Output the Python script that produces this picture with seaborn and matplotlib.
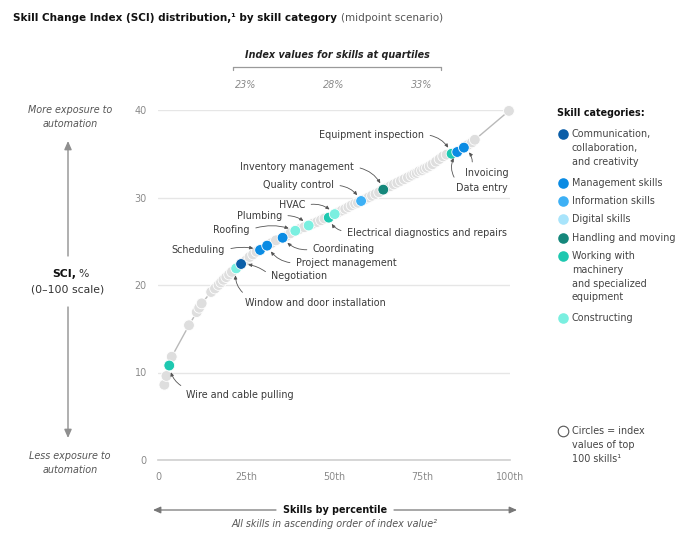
import numpy as np
import pandas as pd
import matplotlib
matplotlib.use("Agg")
import matplotlib.pyplot as plt
import matplotlib.transforms as mtransforms
import seaborn as sns

W, H = 695, 537

# ---------------- data ----------------
cat_keys = ["communication", "management", "information", "digital",
            "handling", "machinery", "constructing"]
cat_labels = ["Communication,\ncollaboration,\nand creativity", "Management skills",
              "Information skills", "Digital skills", "Handling and moving",
              "Working with\nmachinery\nand specialized\nequipment", "Constructing"]
cat_colors = ["#0b5ea8", "#0a8be3", "#3db0f5", "#a8e4fb", "#15877b", "#1ec8b0", "#7aefe0"]
other_color = "#dedede"

skill_names = ["Wire and cable pulling", "Window and door installation", "Negotiation",
               "Scheduling", "Project management", "Coordinating", "Roofing", "Plumbing",
               "Electrical diagnostics and repairs", "HVAC", "Quality control",
               "Inventory management", "Equipment inspection", "Data entry", "Invoicing"]
skill_cat = ["machinery", "constructing", "communication", "management", "management",
             "management", "constructing", "constructing", "machinery", "constructing",
             "information", "handling", "machinery", "management", "management"]
skill_pct = [3.2, 22.2, 23.6, 29.0, 31.0, 35.4, 39.0, 42.8, 48.5, 50.2, 57.7, 64.0, 83.4, 85.0, 86.9]
skill_sci = [10.8, 21.9, 22.4, 24.0, 24.5, 25.4, 26.2, 26.8, 27.7, 28.1, 29.6, 30.9, 35.0, 35.2, 35.7]

# remaining top-100 skills (grey circles)
other_pct = [1.8, 2.4, 3.9, 8.8, 11.0, 11.7, 12.4, 15.1, 16.2, 17.2, 17.9, 18.6, 19.4, 20.2,
             21.0, 25.0, 26.0, 27.0, 28.0, 32.3, 33.5, 36.5, 37.6, 40.2, 41.5, 44.0, 45.2,
             46.3, 47.3, 51.2, 52.2, 53.2, 54.1, 55.0, 56.0, 56.8, 58.8, 59.8, 60.8, 61.8,
             62.8, 65.0, 66.0, 67.0, 68.0, 69.0, 70.0, 71.0, 72.0, 72.8, 73.5, 74.2, 75.0,
             75.7, 76.4, 77.2, 78.0, 79.0, 80.0, 81.0, 82.0, 88.0, 89.2, 90.0, 99.7]
other_sci = [8.6, 9.6, 11.8, 15.4, 16.9, 17.4, 17.9, 19.2, 19.6, 20.0, 20.3, 20.6, 20.9, 21.2,
             21.5, 22.8, 23.2, 23.5, 23.8, 24.8, 25.1, 25.6, 25.9, 26.4, 26.6, 27.0, 27.2,
             27.4, 27.6, 28.3, 28.5, 28.7, 28.9, 29.1, 29.3, 29.4, 29.8, 30.0, 30.2, 30.4,
             30.6, 31.1, 31.3, 31.5, 31.7, 31.9, 32.1, 32.3, 32.5, 32.7, 32.8, 33.0, 33.1,
             33.3, 33.4, 33.6, 33.8, 34.1, 34.4, 34.7, 34.9, 36.0, 36.3, 36.6, 39.9]

# label placement (data coords), alignment, arrow start on text, curvature
label_x = [8.0, 24.7, 32.1, 19.0, 39.2, 44.0, 26.1, 35.2, 53.7, 41.8, 50.0, 55.7, 75.6, 84.7, 87.2]
label_y = [7.4, 18.0, 21.0, 24.0, 22.5, 24.1, 26.3, 27.9, 26.0, 29.1, 31.4, 33.5, 37.2, 31.1, 32.8]
label_ha = ["left", "left", "left", "right", "left", "left", "right", "right", "left",
            "right", "right", "right", "right", "left", "left"]
label_rel = [(0.06, 1.0), (0.03, 1.0), (0.0, 0.5), (1.0, 0.5), (0.0, 0.5), (0.0, 0.5),
             (1.0, 0.5), (1.0, 0.5), (0.0, 0.6), (1.0, 0.5), (1.0, 0.5), (1.0, 0.5),
             (1.0, 0.5), (0.05, 0.9), (0.15, 1.0)]
label_rad = [-0.35, -0.35, 0.2, -0.15, -0.3, -0.3, -0.2, -0.25, -0.35, -0.3, -0.3, -0.3,
             -0.3, -0.4, 0.35]

x_ticks = [0, 25, 50, 75, 100]
x_ticklabels = ["0", "25th", "50th", "75th", "100th"]
y_ticks = [0, 10, 20, 30, 40]
quartile_pct = [25, 50, 75]
quartile_labels = ["23%", "28%", "33%"]

# ---------------- figure ----------------
sns.set_style("white")
plt.rcParams["font.family"] = ["DejaVu Sans"]
FS = 6.9

fig = plt.figure(figsize=(W / 100, H / 100), dpi=100)
ax = fig.add_axes([158 / W, 1 - 460 / H, 352 / W, 350 / H])
ov = fig.add_axes([0, 0, 1, 1], zorder=-1)
ov.set_xlim(0, W)
ov.set_ylim(H, 0)
ov.axis("off")
ov.patch.set_alpha(0)

df_other = pd.DataFrame({"pct": other_pct, "sci": other_sci, "cat": "other"})
df_skill = pd.DataFrame({"pct": skill_pct, "sci": skill_sci, "cat": skill_cat})
df_all = pd.concat([df_other, df_skill], ignore_index=True)
palette = dict(zip(cat_keys, cat_colors))
palette["other"] = other_color

sns.lineplot(data=df_all.sort_values("pct"), x="pct", y="sci", estimator=None, sort=True,
             color="#b9b9b9", lw=1.0, ax=ax, zorder=2)
sns.scatterplot(data=df_all, x="pct", y="sci", hue="cat", palette=palette, s=60,
                linewidth=0.6, edgecolor="white", legend=False, ax=ax, zorder=3)
for coll in ax.collections:
    coll.set_clip_on(False)

ax.set_xlim(0, 100)
ax.set_ylim(0, 40)
ax.set_xticks(x_ticks)
ax.set_xticklabels(x_ticklabels)
ax.set_yticks(y_ticks)
ax.set_xlabel("")
ax.set_ylabel("")
for s in ["left", "right", "top"]:
    ax.spines[s].set_visible(False)
ax.spines["bottom"].set_color("#cfcfcf")
ax.spines["bottom"].set_linewidth(1.2)
ax.yaxis.grid(True, color="#e6e6e6", lw=1.0)
ax.xaxis.grid(False)
ax.set_axisbelow(True)
ax.tick_params(axis="x", direction="in", length=7, width=1, color="#cfcfcf",
               labelsize=FS, labelcolor="#8a8a8a", pad=9)
ax.tick_params(axis="y", length=0, labelsize=FS, labelcolor="#8a8a8a", pad=8)
ax.patch.set_alpha(0)

# annotations
for name, px, py, tx, ty, ha, rel, rad in zip(skill_names, skill_pct, skill_sci, label_x,
                                              label_y, label_ha, label_rel, label_rad):
    ax.annotate(name, xy=(px, py), xytext=(tx, ty), ha=ha, va="center", fontsize=FS,
                color="#3a3a3a", zorder=5,
                arrowprops=dict(arrowstyle="-|>,head_length=0.3,head_width=0.14",
                                color="#555555", lw=0.6, shrinkA=2, shrinkB=5,
                                relpos=rel, connectionstyle=f"arc3,rad={rad}"))

# title
t1 = ov.text(13, 18, "Skill Change Index (SCI) distribution,\u00b9 by skill category",
             fontsize=7.5, fontweight="bold", color="#111111", va="center", ha="left")
fig.canvas.draw()
bb = t1.get_window_extent()
ov.text(bb.x1 + 4, 18, "(midpoint scenario)", fontsize=7.5, color="#555555",
        va="center", ha="left")

# quartile header
ov.text(337, 55, "Index values for skills at quartiles", fontsize=FS, fontweight="bold",
        style="italic", color="#222222", ha="center", va="center")
ov.plot([233, 441], [67, 67], color="#9a9a9a", lw=0.9)
ov.plot([233, 233], [67, 70], color="#9a9a9a", lw=0.9)
ov.plot([441, 441], [67, 70], color="#9a9a9a", lw=0.9)
trans = mtransforms.blended_transform_factory(ax.transData, ov.transData)
for q, lab in zip(quartile_pct, quartile_labels):
    ov.text(q, 85, lab, transform=trans, fontsize=FS, style="italic", color="#8a8a8a",
            ha="center", va="center")

# left side
ov.text(70, 117, "More exposure to\nautomation", fontsize=FS, style="italic", color="#555555",
        ha="center", va="center", linespacing=1.45)
ov.text(70, 463, "Less exposure to\nautomation", fontsize=FS, style="italic", color="#555555",
        ha="center", va="center", linespacing=1.45)
ov.annotate("", xy=(68, 141), xytext=(68, 256),
            arrowprops=dict(arrowstyle="-|>,head_length=0.5,head_width=0.22", color="#8f8f8f",
                        lw=1.0, shrinkA=0, shrinkB=0))
ov.annotate("", xy=(68, 438), xytext=(68, 307),
            arrowprops=dict(arrowstyle="-|>,head_length=0.5,head_width=0.22", color="#8f8f8f",
                        lw=1.0, shrinkA=0, shrinkB=0))
ts = ov.text(52, 274, "SCI,", fontsize=7.8, fontweight="bold", color="#111111",
             ha="left", va="center")
fig.canvas.draw()
bb2 = ts.get_window_extent()
ov.text(bb2.x1 + 2, 274, "%", fontsize=7.8, color="#333333", ha="left", va="center")
ov.text(68, 290, "(0\u2013100 scale)", fontsize=7.8, color="#333333", ha="center", va="center")

# bottom axis title
ov.text(335, 510, "Skills by percentile", fontsize=FS, fontweight="bold", color="#111111",
        ha="center", va="center")
ov.text(335, 524, "All skills in ascending order of index value\u00b2", fontsize=FS,
        style="italic", color="#555555", ha="center", va="center")
ov.annotate("", xy=(153, 510), xytext=(276, 510),
            arrowprops=dict(arrowstyle="-|>,head_length=0.45,head_width=0.2", color="#777777",
                        lw=0.9, shrinkA=0, shrinkB=0))
ov.annotate("", xy=(517, 510), xytext=(394, 510),
            arrowprops=dict(arrowstyle="-|>,head_length=0.45,head_width=0.2", color="#777777",
                        lw=0.9, shrinkA=0, shrinkB=0))

# legend
ov.text(557, 113, "Skill categories:", fontsize=FS, fontweight="bold", color="#111111",
        ha="left", va="center")
leg_y = [134, 183, 201, 219, 238, 256, 318]
for lab, col, y0 in zip(cat_labels, cat_colors, leg_y):
    ov.scatter([563], [y0], s=58, color=col, linewidth=0, clip_on=False)
    for i, line in enumerate(lab.split("\n")):
        ov.text(572, y0 + i * 13.8, line, fontsize=FS, color="#444444", ha="left", va="center")
ov.scatter([563], [431], s=58, facecolor="white", edgecolor="#555555", linewidth=0.8,
           clip_on=False)
for i, line in enumerate(["Circles = index", "values of top", "100 skills\u00b9"]):
    ov.text(572, 431 + i * 13.8, line, fontsize=FS, color="#444444", ha="left", va="center")

fig.savefig("out.png", dpi=100)
